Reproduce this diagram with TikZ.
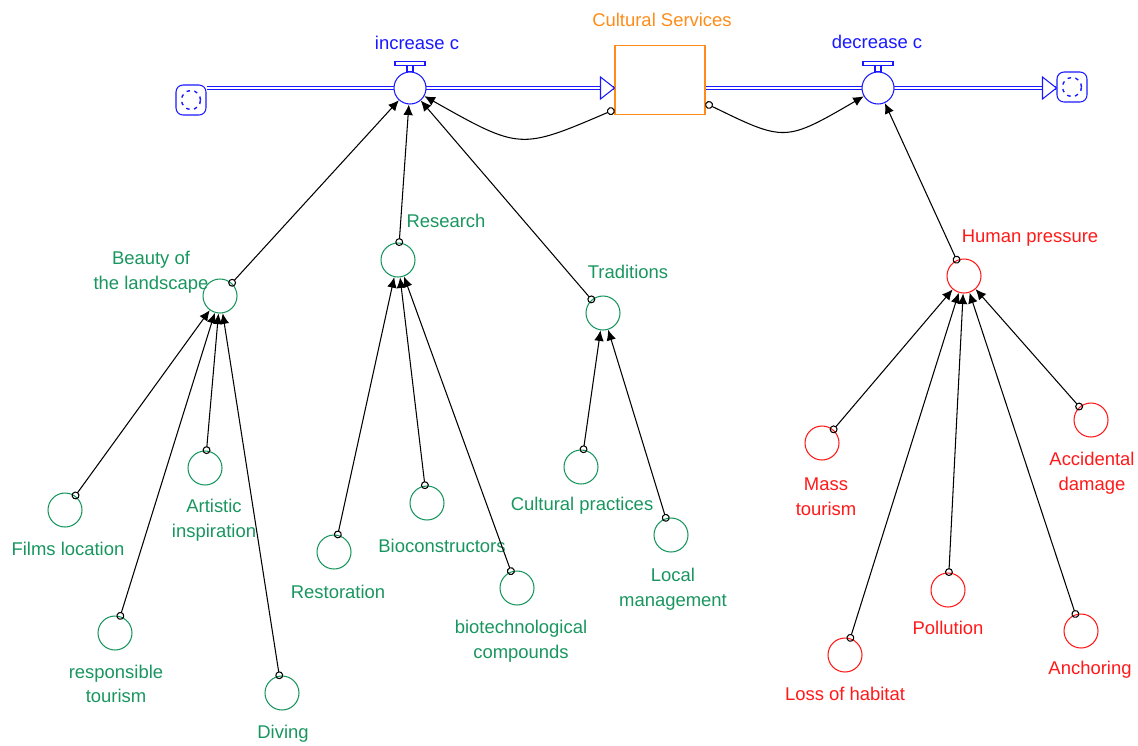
\documentclass[tikz,border=0pt]{standalone}
\usepackage{fontspec}
\setmainfont{Liberation Sans}
\usetikzlibrary{arrows.meta}
\definecolor{vgreen}{RGB}{25,150,95}
\definecolor{vred}{RGB}{255,25,25}
\definecolor{vblue}{RGB}{25,25,255}
\definecolor{vorange}{RGB}{255,140,25}

\begin{document}
\begin{tikzpicture}[
  x=0.02cm, y=-0.02cm,
  font=\fontsize{10.5}{14}\selectfont,
  line width=0.6pt,
  green_var/.style={circle, draw=vgreen, minimum size=0.68cm, inner sep=0pt},
  red_var/.style={circle, draw=vred, minimum size=0.68cm, inner sep=0pt},
  green_lbl/.style={text=vgreen, align=center, inner sep=0pt},
  red_lbl/.style={text=vred, align=center, inner sep=0pt},
  blue_lbl/.style={text=vblue, inner sep=0pt},
  flow_valve/.style={circle, draw=vblue, fill=white, minimum size=0.64cm, inner sep=0pt},
  stock_box/.style={rectangle, draw=vorange, minimum width=1.8cm, minimum height=1.38cm, inner sep=0pt},
  cloud_box/.style={rectangle, draw=vblue, rounded corners=4pt, minimum size=0.6cm, inner sep=0pt,
    path picture={\draw[vblue, line width=0.8pt, dash pattern=on 2pt off 2.5pt] (path picture bounding box.center) circle (0.19cm);}},
  pipe/.style={draw=vblue, double=white, double distance=1.1pt, line width=0.55pt},
  pipe_head/.style={draw=vblue, fill=white, line width=0.6pt, line join=miter},
  link_arrow/.style={draw=black, line width=0.6pt, {Circle[open, length=4.5pt, width=4.5pt]}-{Latex[length=6pt, width=5.5pt]}, shorten <=-2pt},
]
\useasboundingbox (0,0) rectangle (1138,745);

\draw (191,100) node (cloud_l) [cloud_box] {};
\draw (1072,87) node (cloud_r) [cloud_box] {};
\draw (660,80) node (stock) [stock_box] {};
\draw (662,20) node (stock_lbl) [text=vorange, inner sep=0pt] {Cultural Services};

\coordinate (stock_in) at (stock.west |- 0,88);
\coordinate (cloud_in) at (cloud_r.west |- 0,88);
\draw[pipe] (cloud_l.east |- stock_in) -- (stock_in);
\draw[pipe] (stock.east |- stock_in) -- (cloud_in);
\draw[pipe_head] (stock_in) -- ++(-14,-11) -- ++(0,22) -- cycle;
\draw[pipe_head] (cloud_in) -- ++(-14,-11) -- ++(0,22) -- cycle;

\draw (410,88) node (inc) [flow_valve] {};
\draw (878,88) node (dec) [flow_valve] {};
\draw[vblue] (inc.north) ++(-3,0) rectangle ++(6,-6) ++(-18,0) rectangle ++(30,-4);
\draw[vblue] (dec.north) ++(-3,0) rectangle ++(6,-6) ++(-18,0) rectangle ++(30,-4);
\draw (417,43) node (inc_lbl) [blue_lbl] {increase c};
\draw (877,42) node (dec_lbl) [blue_lbl] {decrease c};

\draw (220,296) node (beauty) [green_var] {};
\draw (398,260) node (research) [green_var] {};
\draw (603,313) node (traditions) [green_var] {};
\draw (65,510) node (films) [green_var] {};
\draw (205,468) node (artistic) [green_var] {};
\draw (115,633) node (responsible) [green_var] {};
\draw (282,693) node (diving) [green_var] {};
\draw (334,552) node (restoration) [green_var] {};
\draw (427,503) node (bioconstr) [green_var] {};
\draw (517,588) node (biotech) [green_var] {};
\draw (581,467) node (practices) [green_var] {};
\draw (671,535) node (local) [green_var] {};

\draw (964,276) node (pressure) [red_var] {};
\draw (822,443) node (mass) [red_var] {};
\draw (1091,420) node (accidental) [red_var] {};
\draw (845,655) node (habitat) [red_var] {};
\draw (948,590) node (pollution) [red_var] {};
\draw (1081,631) node (anchoring) [red_var] {};

\draw (151,272) node (beauty_lbl) [green_lbl] {Beauty of\\the landscape};
\draw (446,221) node (research_lbl) [green_lbl] {Research};
\draw (628,272) node (traditions_lbl) [green_lbl] {Traditions};
\draw (68,549) node (films_lbl) [green_lbl] {Films location};
\draw (214,520) node (artistic_lbl) [green_lbl] {Artistic\\inspiration};
\draw (116,684) node (responsible_lbl) [green_lbl] {responsible\\tourism};
\draw (283,734) node (diving_lbl) [green_lbl] {Diving};
\draw (338,592) node (restoration_lbl) [green_lbl] {Restoration};
\draw (442,546) node (bioconstr_lbl) [green_lbl] {Bioconstructors};
\draw (521,641) node (biotech_lbl) [green_lbl] {biotechnological\\compounds};
\draw (582,506) node (practices_lbl) [green_lbl] {Cultural practices};
\draw (673,589) node (local_lbl) [green_lbl] {Local\\management};

\draw (1030,238) node (pressure_lbl) [red_lbl] {Human pressure};
\draw (826,497) node (mass_lbl) [red_lbl] {Mass\\tourism};
\draw (1092,473) node (accidental_lbl) [red_lbl] {Accidental\\damage};
\draw (845,694) node (habitat_lbl) [red_lbl] {Loss of habitat};
\draw (948,628) node (pollution_lbl) [red_lbl] {Pollution};
\draw (1090,670) node (anchoring_lbl) [red_lbl] {Anchoring};

\draw[link_arrow, shorten <=0pt] (stock.-147) .. controls (520,150) .. (inc);
\draw[link_arrow, shorten <=0pt] (stock.-27) .. controls (785,142) .. (dec);
\draw[link_arrow] (beauty) -- (inc);
\draw[link_arrow] (research) -- (inc);
\draw[link_arrow] (traditions) -- (inc);
\draw[link_arrow] (pressure) -- (dec);

\draw[link_arrow] (films) -- (beauty);
\draw[link_arrow] (artistic) -- (beauty);
\draw[link_arrow] (responsible) -- (beauty);
\draw[link_arrow] (diving) -- (beauty);
\draw[link_arrow] (restoration) -- (research);
\draw[link_arrow] (bioconstr) -- (research);
\draw[link_arrow] (biotech) -- (research);
\draw[link_arrow] (practices) -- (traditions);
\draw[link_arrow] (local) -- (traditions);
\draw[link_arrow] (mass) -- (pressure);
\draw[link_arrow] (habitat) -- (pressure);
\draw[link_arrow] (pollution) -- (pressure);
\draw[link_arrow] (anchoring) -- (pressure);
\draw[link_arrow] (accidental) -- (pressure);
\end{tikzpicture}
\end{document}
